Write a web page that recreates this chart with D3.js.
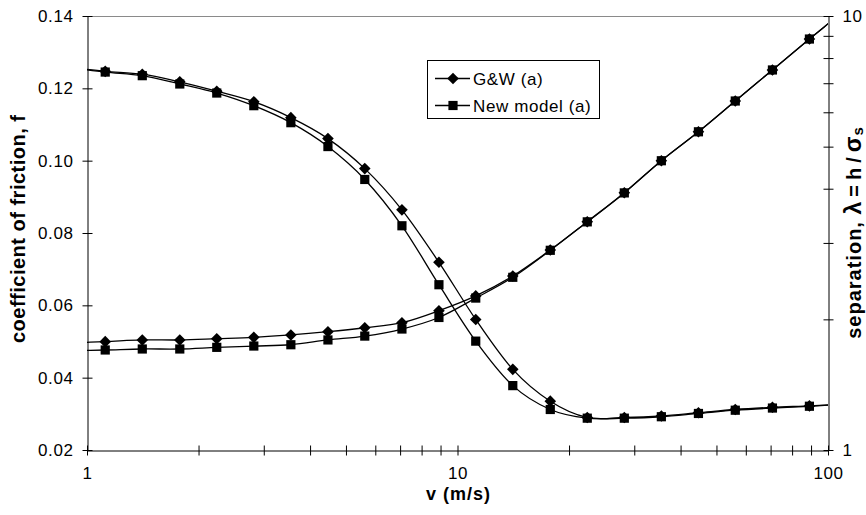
<!DOCTYPE html>
<html>
<head>
<meta charset="utf-8">
<script src="https://cdn.jsdelivr.net/npm/d3@7"></script>
<style>
  html, body { margin: 0; padding: 0; background: #fff; }
  svg text { font-family: "Liberation Sans", Arial, sans-serif; fill: #000; }
</style>
</head>
<body>
<svg id="chart" width="866" height="515"></svg>
<script>
// Sliding speed v (m/s); the first and last points lie just outside the axis range
const speed = [0.891, 1.12, 1.41, 1.78, 2.24, 2.82, 3.55, 4.47, 5.62, 7.08, 8.91,
               11.2, 14.1, 17.8, 22.4, 28.2, 35.5, 44.7, 56.2, 70.8, 89.1, 112.2];

// Coefficient of friction f (left axis)
const frictionGW  = [0.1258, 0.1247, 0.1239, 0.1218, 0.1192, 0.1163, 0.1119, 0.1061, 0.0978, 0.0864, 0.0719,
                     0.0561, 0.0423, 0.0335, 0.0290, 0.0290, 0.0294, 0.0303, 0.0312, 0.0318, 0.0322, 0.0327];
const frictionNew = [0.1258, 0.1245, 0.1235, 0.1212, 0.1187, 0.1152, 0.1105, 0.1039, 0.0948, 0.0820, 0.0657,
                     0.0501, 0.0378, 0.0312, 0.0288, 0.0288, 0.0292, 0.0301, 0.0310, 0.0316, 0.0321, 0.0327];

// Separation λ = h/σs (right axis, logarithmic)
const separationGW  = [1.765, 1.777, 1.793, 1.793, 1.805, 1.818, 1.841, 1.873, 1.913, 1.965, 2.094,
                       2.265, 2.517, 2.889, 3.358, 3.916, 4.64, 5.41, 6.37, 7.51, 8.85, 10.4];
const separationNew = [1.694, 1.700, 1.709, 1.709, 1.724, 1.736, 1.748, 1.793, 1.830, 1.900, 2.020,
                       2.239, 2.500, 2.885, 3.355, 3.912, 4.64, 5.41, 6.37, 7.51, 8.85, 10.4];

// Axis ticks and labels
const frictionTicks    = [0.02, 0.04, 0.06, 0.08, 0.10, 0.12, 0.14];
const speedTicks       = [1, 2, 3, 4, 5, 6, 7, 8, 9, 10, 20, 30, 40, 50, 60, 70, 80, 90, 100];
const speedLabels      = [1, 10, 100];
const separationTicks  = [1, 2, 3, 4, 5, 6, 7, 8, 9, 10];
const separationLabels = [1, 10];

const seriesNames = ["G&W (a)", "New model (a)"];

const svg = d3.select("#chart");
const plot = { left: 87, right: 828, top: 16, bottom: 450 };

const x  = d3.scaleLog().domain([1, 100]).range([plot.left, plot.right]);
const yF = d3.scaleLinear().domain([0.02, 0.14]).range([plot.bottom, plot.top]);
const yS = d3.scaleLog().domain([1, 10]).range([plot.bottom, plot.top]);

function styleTickText(axisGroup) {
  axisGroup.selectAll(".tick text")
    .style("font-size", "17px")
    .style("letter-spacing", "0.6px");
}

// Top border of the plot area
svg.append("line")
  .attr("x1", plot.left).attr("x2", plot.right)
  .attr("y1", plot.top + 0.5).attr("y2", plot.top + 0.5)
  .attr("stroke", "#8a8a8a").attr("stroke-width", 1);

// Left axis (friction)
const leftAxis = svg.append("g")
  .attr("transform", `translate(${plot.left + 0.5},0)`)
  .call(d3.axisLeft(yF).tickValues(frictionTicks).tickFormat(d3.format(".2f"))
        .tickSize(5).tickSizeOuter(0).tickPadding(9));
leftAxis.selectAll(".tick line").attr("x1", 5);
styleTickText(leftAxis);

// Bottom axis (speed)
const bottomAxis = svg.append("g")
  .attr("transform", `translate(0,${plot.bottom + 0.5})`)
  .call(d3.axisBottom(x).tickValues(speedTicks)
        .tickFormat(d => speedLabels.includes(d) ? String(d) : "")
        .tickSize(5).tickSizeOuter(0).tickPadding(11));
bottomAxis.selectAll(".tick line").attr("y1", -5);
styleTickText(bottomAxis);

// Right axis (separation)
const rightAxis = svg.append("g")
  .attr("transform", `translate(${plot.right + 0.5},0)`)
  .call(d3.axisRight(yS).tickValues(separationTicks)
        .tickFormat(d => separationLabels.includes(d) ? String(d) : "")
        .tickSize(5).tickSizeOuter(0).tickPadding(9));
rightAxis.selectAll(".tick line").attr("x1", -5);
styleTickText(rightAxis);

svg.selectAll(".domain").attr("stroke", "#000").attr("stroke-width", 1);
svg.selectAll(".tick line").attr("stroke", "#000");

// Axis titles
svg.append("text")
  .attr("transform", `translate(25,229) rotate(-90)`)
  .attr("text-anchor", "middle")
  .attr("textLength", 228).attr("lengthAdjust", "spacing")
  .style("font-size", "20px").style("font-weight", "bold")
  .text("coefficient of friction, f");

svg.append("text")
  .attr("x", 458).attr("y", 500)
  .attr("text-anchor", "middle")
  .attr("textLength", 64).attr("lengthAdjust", "spacing")
  .style("font-size", "18px").style("font-weight", "bold")
  .text("v (m/s)");

const rightTitle = svg.append("text")
  .attr("transform", `translate(861,233) rotate(-90)`)
  .attr("text-anchor", "middle")
  .style("font-size", "20px").style("font-weight", "bold");
rightTitle.append("tspan").style("letter-spacing", "1px").text("separation, ");
const greek = rightTitle.append("tspan").style("letter-spacing", "5px");
greek.append("tspan").style("font-size", "23px").text("λ");
greek.append("tspan").text("=h/");
greek.append("tspan").style("font-size", "23px").style("letter-spacing", "1px").text("σ");
rightTitle.append("tspan").style("font-size", "15px").attr("dy", 1.5).text("s");

// Data series
svg.append("clipPath").attr("id", "plot-clip")
  .append("rect")
  .attr("x", plot.left).attr("y", plot.top - 6)
  .attr("width", plot.right - plot.left).attr("height", plot.bottom - plot.top + 6);

const series = [
  { name: seriesNames[0], marker: "diamond", values: frictionGW,    scale: yF },
  { name: seriesNames[1], marker: "square",  values: frictionNew,   scale: yF },
  { name: seriesNames[0], marker: "diamond", values: separationGW,  scale: yS },
  { name: seriesNames[1], marker: "square",  values: separationNew, scale: yS }
];

function markerPath(type) {
  if (type === "diamond") return "M0,-5.8L5.8,0L0,5.8L-5.8,0Z";
  return "M-4.6,-4.6H4.6V4.6H-4.6Z";
}

const dataLayer = svg.append("g").attr("clip-path", "url(#plot-clip)");

series.forEach(s => {
  const pts = speed.map((v, i) => [x(v), s.scale(s.values[i])]);
  dataLayer.append("path")
    .attr("d", d3.line().curve(d3.curveCardinal.tension(0))(pts))
    .attr("fill", "none")
    .attr("stroke", "#000")
    .attr("stroke-width", 1.3);
  dataLayer.append("g")
    .selectAll("path")
    .data(pts)
    .join("path")
    .attr("transform", d => `translate(${d[0]},${d[1]})`)
    .attr("d", markerPath(s.marker))
    .attr("fill", "#000");
});

// Legend
const legend = svg.append("g");
legend.append("rect")
  .attr("x", 427.5).attr("y", 60.5)
  .attr("width", 172).attr("height", 58)
  .attr("fill", "#fff").attr("stroke", "#000").attr("stroke-width", 1);

const legendRows = [
  { name: seriesNames[0], marker: "diamond", y: 78.5 },
  { name: seriesNames[1], marker: "square",  y: 105.5 }
];
legendRows.forEach(r => {
  legend.append("line")
    .attr("x1", 435).attr("x2", 470)
    .attr("y1", r.y).attr("y2", r.y)
    .attr("stroke", "#000").attr("stroke-width", 1.3);
  legend.append("path")
    .attr("transform", `translate(453,${r.y})`)
    .attr("d", markerPath(r.marker))
    .attr("fill", "#000");
  legend.append("text")
    .attr("x", 473).attr("y", r.y + 6)
    .style("font-size", "17px").style("letter-spacing", "0.6px")
    .text(r.name);
});
</script>
</body>
</html>
